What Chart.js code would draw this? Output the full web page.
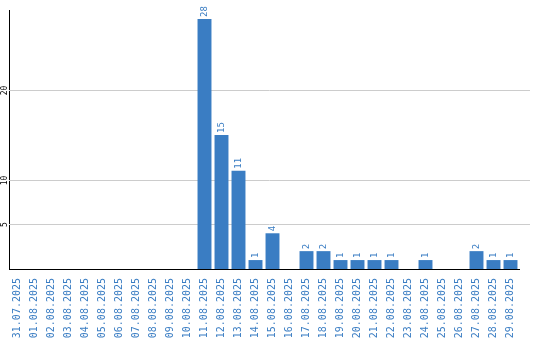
<!DOCTYPE html>
<html>
<head>
<meta charset="utf-8">
<script src="https://cdn.jsdelivr.net/npm/chart.js@4/dist/chart.umd.min.js"></script>
<style>
  html, body { margin: 0; padding: 0; background: #fff; }
  #wrap { width: 540px; height: 340px; position: relative; }
</style>
</head>
<body>
<div id="wrap"><canvas id="dailyChart"></canvas></div>
<script>
const days = [
    '31.07.2025', '01.08.2025', '02.08.2025', '03.08.2025', '04.08.2025',
    '05.08.2025', '06.08.2025', '07.08.2025', '08.08.2025', '09.08.2025',
    '10.08.2025', '11.08.2025', '12.08.2025', '13.08.2025', '14.08.2025',
    '15.08.2025', '16.08.2025', '17.08.2025', '18.08.2025', '19.08.2025',
    '20.08.2025', '21.08.2025', '22.08.2025', '23.08.2025', '24.08.2025',
    '25.08.2025', '26.08.2025', '27.08.2025', '28.08.2025', '29.08.2025'
];
const counts = [
    0, 0, 0, 0, 0, 0, 0, 0, 0, 0,
    0, 28, 15, 11, 1, 4, 0, 2, 2, 1,
    1, 1, 1, 0, 1, 0, 0, 2, 1, 1
];
const yTicks = [5, 10, 20];
const yMax = 29;

const BLUE = '#3a7dc3';
const MONO = '"DejaVu Sans Mono", monospace';

// horizontal grid lines (a bit past the last category) and rotated y tick labels
const gridPlugin = {
    id: 'gridLines',
    beforeDatasetsDraw(chart) {
        const ctx = chart.ctx;
        const y = chart.scales.y;
        const area = chart.chartArea;
        ctx.save();
        ctx.strokeStyle = '#cccccc';
        ctx.lineWidth = 1;
        ctx.fillStyle = '#000';
        ctx.font = '8px ' + MONO;
        ctx.textAlign = 'center';
        ctx.textBaseline = 'middle';
        yTicks.forEach(function (v) {
            const py = Math.round(y.getPixelForValue(v)) + 0.5;
            ctx.beginPath();
            ctx.moveTo(area.left, py);
            ctx.lineTo(530, py);
            ctx.stroke();
            ctx.save();
            ctx.translate(5, py);
            ctx.rotate(-Math.PI / 2);
            ctx.fillText(String(v), 0, 0);
            ctx.restore();
        });
        ctx.restore();
    }
};

// rotated value labels above each bar
const valueLabels = {
    id: 'valueLabels',
    afterDatasetsDraw(chart) {
        const ctx = chart.ctx;
        const meta = chart.getDatasetMeta(0);
        ctx.save();
        ctx.fillStyle = BLUE;
        ctx.font = '9px ' + MONO;
        ctx.textAlign = 'left';
        ctx.textBaseline = 'middle';
        meta.data.forEach(function (bar, i) {
            const v = counts[i];
            if (!v) {
                return;
            }
            ctx.save();
            ctx.translate(bar.x, bar.y - 2);
            ctx.rotate(-Math.PI / 2);
            ctx.fillText(String(v), 0, 0);
            ctx.restore();
        });
        ctx.restore();
    }
};

new Chart(document.getElementById('dailyChart'), {
    type: 'bar',
    data: {
        labels: days,
        datasets: [{
            data: counts,
            backgroundColor: BLUE,
            borderWidth: 0,
            barPercentage: 0.82,
            categoryPercentage: 1
        }]
    },
    options: {
        responsive: true,
        maintainAspectRatio: false,
        animation: false,
        layout: { padding: { top: 10, right: 21, left: 0, bottom: 0 } },
        plugins: {
            legend: { display: false },
            tooltip: { enabled: false }
        },
        scales: {
            x: {
                grid: { display: false },
                border: { display: true, color: '#000', width: 1 },
                ticks: {
                    autoSkip: false,
                    minRotation: 90,
                    maxRotation: 90,
                    padding: 1,
                    color: BLUE,
                    font: { family: MONO, size: 10 }
                },
                afterFit: function (scale) { scale.height = 71; }
            },
            y: {
                min: 0,
                max: yMax,
                grid: { display: false },
                border: { display: true, color: '#000', width: 1 },
                afterBuildTicks: function (scale) {
                    scale.ticks = yTicks.map(function (v) { return { value: v }; });
                },
                ticks: { display: false },
                afterFit: function (scale) { scale.width = 9; }
            }
        }
    },
    plugins: [gridPlugin, valueLabels]
});
</script>
</body>
</html>
